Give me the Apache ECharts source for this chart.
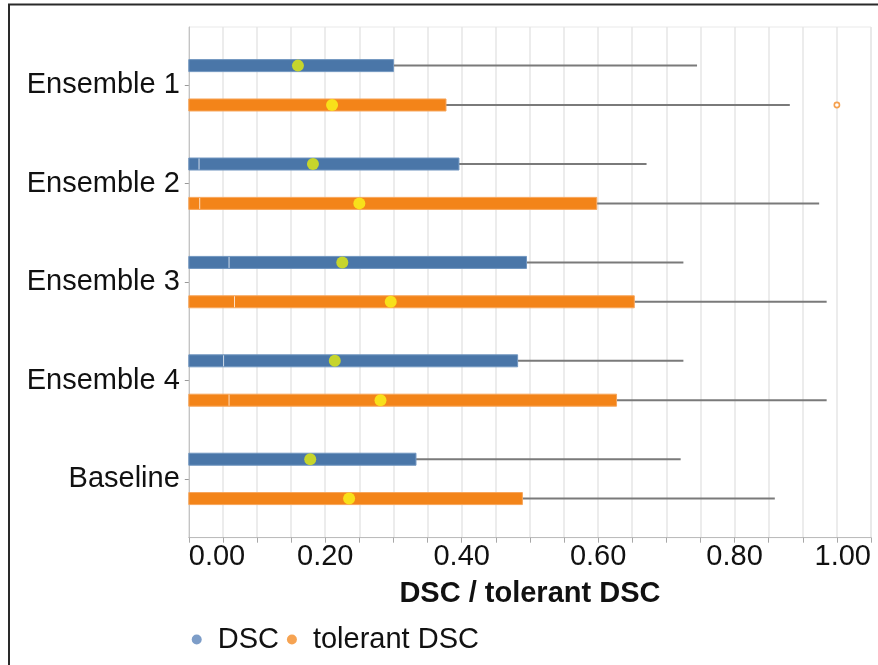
<!DOCTYPE html>
<html><head><meta charset="utf-8">
<script src="https://cdn.jsdelivr.net/npm/echarts@6/dist/echarts.min.js"></script>
<style>html,body{margin:0;padding:0;background:#fff}#c{width:878px;height:665px}</style>
</head><body><div id="c"></div>
<script>
// ---- data ----
const categories = ['Ensemble 1', 'Ensemble 2', 'Ensemble 3', 'Ensemble 4', 'Baseline'];
const dscQ1     = [0, 0, 0, 0, 0];
const dscMedian = [0, 0.015, 0.059, 0.051, 0];
const dscQ3     = [0.300, 0.396, 0.495, 0.482, 0.333];
const dscMax    = [0.745, 0.671, 0.725, 0.725, 0.721];
const dscMean   = [0.160, 0.182, 0.225, 0.214, 0.178];
const tolQ1     = [0, 0, 0, 0, 0];
const tolMedian = [0, 0.016, 0.067, 0.059, 0];
const tolQ3     = [0.377, 0.598, 0.653, 0.627, 0.489];
const tolMax    = [0.881, 0.924, 0.935, 0.935, 0.859];
const tolMean   = [0.210, 0.250, 0.296, 0.281, 0.235];
const tolOutlierCategory = ['Ensemble 1'];
const tolOutlierValue    = [0.950];
const tickLabels = ['0.00', '0.20', '0.40', '0.60', '0.80', '1.00'];

// ---- chart ----
const FONT = "'Liberation Sans', Arial, sans-serif";
const chart = echarts.init(document.getElementById('c'), null, {renderer: 'canvas'});

function rows(q1, med, q3, mx, mean) {
  return categories.map((c, i) => [i, q1[i], med[i], q3[i], mx[i], mean[i]]);
}

function makeRender(sign, fill, edge, dotColor) {
  return function (params, api) {
    const ci = api.value(0);
    const band = api.size([0, 1])[1];
    const yc = api.coord([0, ci])[1] + sign * band * 0.2;
    const h = band * 0.122;
    const x1 = api.coord([api.value(1), ci])[0];
    const xm = api.coord([api.value(2), ci])[0];
    const x3 = api.coord([api.value(3), ci])[0];
    const xmax = api.coord([api.value(4), ci])[0];
    const xmean = api.coord([api.value(5), ci])[0];
    const children = [
      {type: 'line', shape: {x1: x3, y1: yc, x2: xmax, y2: yc}, style: {stroke: '#7a7a7a', lineWidth: 2}},
      {type: 'rect', shape: {x: x1, y: yc - h / 2, width: x3 - x1, height: h}, style: {fill: fill, stroke: edge, lineWidth: 1}}
    ];
    if (api.value(2) > api.value(1)) {
      children.push({type: 'line', shape: {x1: xm, y1: yc - h / 2 + 0.5, x2: xm, y2: yc + h / 2 - 0.5}, style: {stroke: 'rgba(255,255,255,0.75)', lineWidth: 1}});
    }
    children.push({type: 'circle', shape: {cx: xmean, cy: yc, r: 6}, style: {fill: dotColor}});
    return {type: 'group', children: children};
  };
}

const option = {
  animation: false,
  backgroundColor: '#fff',
  textStyle: {fontFamily: FONT},
  grid: [
    {left: 188.8, top: 27, width: 682.2, height: 510.7, show: true, borderColor: '#e9e9e9', borderWidth: 1},
    {left: 188.8, top: 36.1, width: 682.2, height: 492}
  ],
  xAxis: [
    {
      gridIndex: 0, type: 'value', min: 0, max: 1, interval: 0.05,
      axisLine: {lineStyle: {color: '#bcbcbc', width: 1}},
      axisTick: {length: 5, lineStyle: {color: '#a8a8a8'}},
      splitLine: {show: true, lineStyle: {color: '#e6e6e6', width: 1.5}},
      axisLabel: {
        fontFamily: FONT, fontSize: 29, color: '#111', margin: 5,
        showMinLabel: true, showMaxLabel: true, alignMinLabel: 'left', alignMaxLabel: 'right',
        formatter: function (v) {
          const k = Math.round(v / 0.2);
          return Math.abs(v - k * 0.2) < 1e-6 ? tickLabels[k] : '';
        }
      },
      name: 'DSC / tolerant DSC', nameLocation: 'middle', nameGap: 42,
      nameTextStyle: {fontFamily: FONT, fontSize: 29, fontWeight: 'bold', color: '#111'}
    },
    {gridIndex: 1, type: 'value', min: 0, max: 1, show: false}
  ],
  yAxis: [
    {
      gridIndex: 0, type: 'value', min: 0, max: 1,
      axisLine: {show: true, lineStyle: {color: '#c4c4c4', width: 1}},
      axisTick: {show: false}, axisLabel: {show: false}, splitLine: {show: false}
    },
    {
      gridIndex: 1, type: 'category', data: categories, inverse: true,
      axisLine: {show: false},
      axisTick: {show: true, alignWithLabel: true, length: 4, lineStyle: {color: '#999'}},
      axisLabel: {fontFamily: FONT, fontSize: 29, color: '#111', margin: 9},
      splitLine: {show: false}
    }
  ],
  legend: {
    left: 186.7, top: 620, icon: 'circle', itemWidth: 32, itemHeight: 10, itemGap: 8,
    selectedMode: false,
    textStyle: {fontFamily: FONT, fontSize: 29, color: '#111'},
    data: [
      {name: 'DSC', itemStyle: {color: '#7d9dc8'}},
      {name: 'tolerant DSC', itemStyle: {color: '#f6a352'}}
    ]
  },
  series: [
    {
      name: 'DSC', type: 'custom', xAxisIndex: 1, yAxisIndex: 1,
      itemStyle: {color: '#4e79a7'},
      encode: {x: [1, 2, 3, 4, 5], y: 0},
      renderItem: makeRender(-1, '#4a76a8', '#7196c0', '#c6d52c'),
      data: rows(dscQ1, dscMedian, dscQ3, dscMax, dscMean)
    },
    {
      name: 'tolerant DSC', type: 'custom', xAxisIndex: 1, yAxisIndex: 1,
      itemStyle: {color: '#f28e2b'},
      encode: {x: [1, 2, 3, 4, 5], y: 0},
      renderItem: makeRender(1, '#f38419', '#f7a55a', '#f8e01a'),
      data: rows(tolQ1, tolMedian, tolQ3, tolMax, tolMean)
    },
    {
      name: 'tolerant DSC outlier', type: 'custom', xAxisIndex: 1, yAxisIndex: 1,
      encode: {x: 1, y: 0},
      renderItem: function (params, api) {
        const ci = api.value(0);
        const band = api.size([0, 1])[1];
        const p = api.coord([api.value(1), ci]);
        return {type: 'circle', shape: {cx: p[0], cy: p[1] + band * 0.2, r: 2.6},
          style: {fill: '#fff', stroke: '#f5a04e', lineWidth: 1.6}};
      },
      data: tolOutlierCategory.map((c, i) => [categories.indexOf(c), tolOutlierValue[i]])
    }
  ],
  graphic: [
    {type: 'rect', z: 100, shape: {x: 9, y: 4.5, width: 900, height: 700},
      style: {fill: 'none', stroke: '#2a2a2a', lineWidth: 2}}
  ]
};
chart.setOption(option);
</script>
</body></html>
